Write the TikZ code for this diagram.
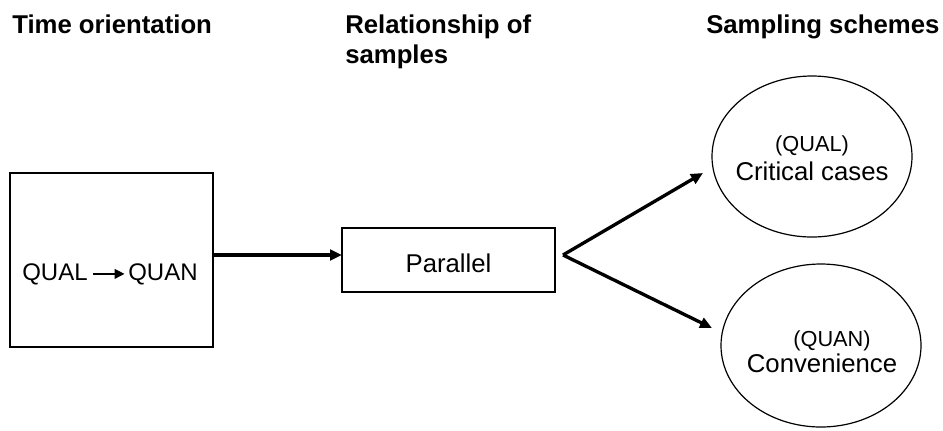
\documentclass[tikz,border=0pt]{standalone}
\usepackage{fontspec}
\setmainfont{Liberation Sans}
\usetikzlibrary{shapes.geometric,arrows.meta}
\tikzset{
  box/.style={draw, line width=1.3pt, inner sep=0pt},
  oval/.style={draw, ellipse, line width=0.9pt, inner sep=0pt},
  head/.style={anchor=base west, inner sep=0pt, font=\bfseries\fontsize{19.3}{22.5}\selectfont, align=left},
  big/.style={anchor=base, inner sep=0pt, font=\fontsize{19.3}{23}\selectfont},
  mid/.style={anchor=base, inner sep=0pt, font=\fontsize{16.3}{20}\selectfont},
  inbox/.style={anchor=base west, inner sep=0pt, font=\fontsize{18}{22}\selectfont},
  arr/.style={line width=2.5pt, -{Triangle[length=9pt,width=8pt]}},
  smallarr/.style={line width=2pt, -{Triangle[length=7.5pt,width=7pt]}}
}
\begin{document}
\begin{tikzpicture}[x=0.75pt,y=-0.75pt]
\useasboundingbox (0,0) rectangle (943,430);
% headers
\node[head] (h1) at (12,33) {Time orientation};
\node[head] (h2) at (345,63) {Relationship of\\samples};
\node[head] (h3) at (706,33) {Sampling schemes};
% left box
\node[box, minimum width=152.25pt, minimum height=130.5pt] (tbox) at (111.5,260) {};
\node[inbox] (qual) at (22,280) {QUAL};
\node[inbox] (quan) at (128,280) {QUAN};
\draw[smallarr, shorten <=4pt, shorten >=2.5pt] (qual.east) -- (quan.west);
% parallel box
\node[box, minimum width=159.75pt, minimum height=48pt] (par) at (448.5,260) {};
\node[big] (partxt) at (448.5,272.7) {Parallel};
\coordinate (boxout) at (213,255);
\coordinate (parin) at (342,255);
\draw[arr] (boxout) -- (parin);
% ellipses
\node[oval, minimum width=150pt, minimum height=120.75pt] (e1) at (812,156.5) {};
\node[oval, minimum width=150pt, minimum height=122.25pt] (e2) at (821,345.5) {};
\node[mid] (qualb) at (812,151.7) {(QUAL)};
\node[big] (crit) at (812,180.7) {Critical cases};
\node[mid] (quanb) at (832,346.7) {(QUAN)};
\node[big] (conv) at (822,372.7) {Convenience};
% fork
\coordinate (fork) at (563,255);
\coordinate (tip1) at (703,173);
\coordinate (tip2) at (712,328);
\draw[arr] (fork) -- (tip1);
\draw[arr] (fork) -- (tip2);
\end{tikzpicture}
\end{document}
